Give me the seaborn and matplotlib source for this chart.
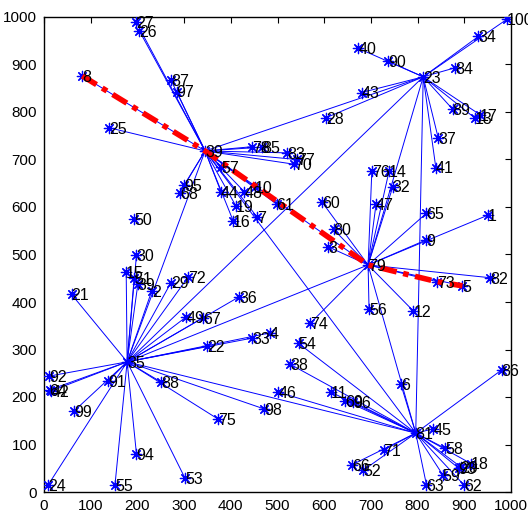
import numpy as np
import pandas as pd
import matplotlib
matplotlib.use("Agg")
import matplotlib.pyplot as plt
import seaborn as sns

# ---- data ----
labels = ["27","26","8","87","97","25","78","85","83","77","70","57","95","68","44","48","10","61","19","7","16",
          "40","90","84","34","100","43","28","89","13","17","37","41",
          "76","14","32","47","60","80","3","65","9","1","82","73","5","56","12","74",
          "86","45","58","18","20","93","59","62","63","71","66","52","69","96","11","46","38","54","6",
          "30","15","51","39","2","29","72","21","36","49","67","4","33","22","92","42","64","91","88","99","75","98","94","53","24","55",
          "50",
          "39","23","79","35","81"]
node_x = [197,204,82,272,284,139,446,467,520,541,536,380,300,291,379,429,452,498,411,457,405,
          673,737,880,930,991,680,604,875,923,934,844,839,
          702,739,747,711,595,620,609,819,819,951,956,841,896,696,791,570,
          980,834,859,914,892,888,854,899,819,727,659,684,645,662,615,502,527,545,764,
          198,176,193,201,231,272,309,59,418,305,341,484,446,350,11,16,12,138,250,65,372,471,198,302,9,152,
          193,
          345,812,694,178,796]
node_y = [990,971,876,867,843,767,727,726,714,700,690,685,646,630,632,632,642,606,602,578,571,
          934,907,893,959,995,841,788,806,787,794,746,683,
          676,676,643,606,611,553,516,587,531,583,451,443,434,385,381,355,
          257,133,92,60,53,50,36,15,15,88,57,46,192,190,210,210,269,313,227,
          499,464,450,438,424,441,453,416,411,369,367,335,324,307,244,213,215,234,232,171,154,175,80,29,15,15,
          575,
          718,874,478,274,124]
node_head = (["39"]*21 + ["23"]*12 + ["79"]*16 + ["81"]*19 + ["35"]*26 + [""] + [""]*5)

heads = ["39", "23", "79", "35", "81"]
route = ["8", "39", "79", "73", "5"]
ticks = [0, 100, 200, 300, 400, 500, 600, 700, 800, 900, 1000]

nodes = pd.DataFrame({"label": labels, "x": node_x, "y": node_y, "head": node_head})
pos = {}
for lab, x, y in zip(labels, node_x, node_y):
    pos.setdefault(lab, (x, y))
for lab, x, y in zip(labels[-5:], node_x[-5:], node_y[-5:]):
    pos[lab] = (x, y)

rows = []
eid = 0
for lab, x, y, h in zip(labels[:-5], node_x[:-5], node_y[:-5], node_head[:-5]):
    if h:
        hx, hy = pos[h]
        rows += [(eid, x, y), (eid, hx, hy)]
        eid += 1
for i in range(len(heads)):
    for j in range(i + 1, len(heads)):
        a, b = pos[heads[i]], pos[heads[j]]
        rows += [(eid, a[0], a[1]), (eid, b[0], b[1])]
        eid += 1
edges = pd.DataFrame(rows, columns=["edge", "x", "y"])

route_df = pd.DataFrame({"step": range(len(route)),
                         "x": [pos[r][0] for r in route],
                         "y": [pos[r][1] for r in route]})

# ---- plot ----
sns.set_style("white")
plt.rcParams["font.family"] = ["Liberation Sans", "DejaVu Sans"]
fig = plt.figure(figsize=(5.28, 5.18), dpi=100)
ax = fig.add_axes([44/528, 26/518, (511-44)/528, (492-17)/518])

sns.lineplot(data=edges, x="x", y="y", units="edge", estimator=None, sort=False,
             color="#0000ff", linewidth=0.7, ax=ax, legend=False)
sns.scatterplot(data=nodes, x="x", y="y", marker=(8, 2, 0), color="#0000ff",
                s=55, linewidth=0.9, ax=ax, legend=False, zorder=3)
sns.lineplot(data=route_df, x="x", y="y", sort=False, estimator=None, color="red",
             linewidth=4, linestyle=(0, (3, 1.2, 1, 1.2)), ax=ax, legend=False, zorder=4)

for lab, x, y in zip(labels, node_x, node_y):
    ax.text(x, y - 3, lab, ha="left", va="center", fontsize=11.5, color="black",
            zorder=5, clip_on=False)

ax.set_xlim(0, 1000)
ax.set_ylim(0, 1000)
ax.set_xticks(ticks)
ax.set_yticks(ticks)
ax.set_xticklabels([str(t) for t in ticks])
ax.set_yticklabels([str(t) for t in ticks])
ax.set_xlabel("")
ax.set_ylabel("")
ax.tick_params(direction="in", length=4, width=0.8, top=True, right=True,
               labelsize=11, colors="black", pad=5)
for s in ax.spines.values():
    s.set_visible(True)
    s.set_color("black")
    s.set_linewidth(1.0)

fig.savefig("out.png", dpi=100, facecolor="white")
